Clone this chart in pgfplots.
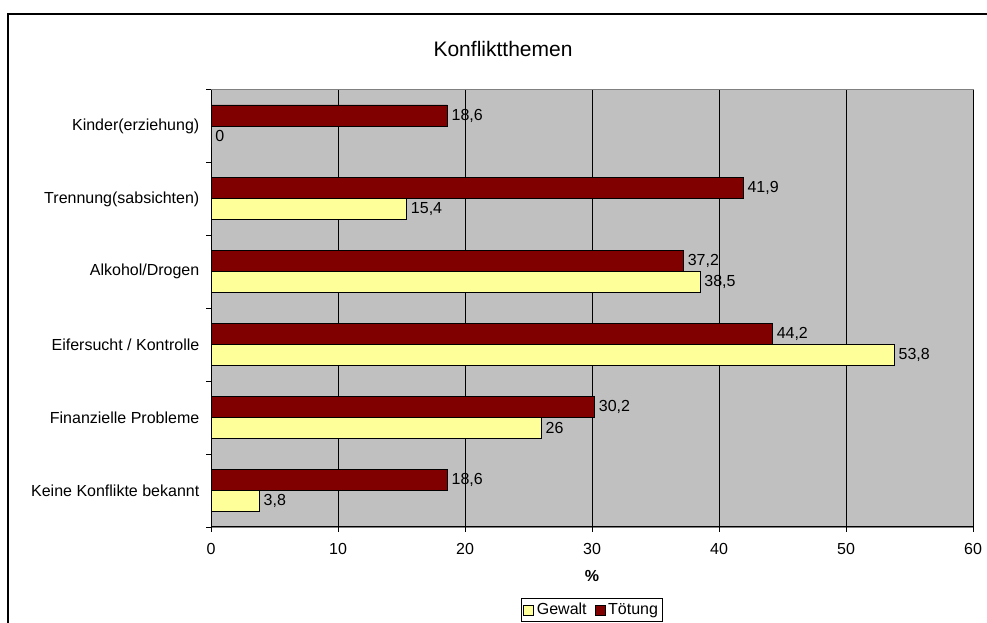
\documentclass[border=0pt]{standalone}
\usepackage{pgfplots}
\pgfplotsset{compat=1.18}
\usepackage{fontspec}
\setmainfont{Liberation Sans}
\definecolor{chartgray}{HTML}{C0C0C0}
\definecolor{gewalt}{HTML}{FFFF99}
\definecolor{toetung}{HTML}{800000}
\newcommand\lab{\fontsize{12pt}{14pt}\selectfont}
\newcommand\ttl{\fontsize{15.75pt}{18pt}\selectfont}
\begin{document}
\begin{tikzpicture}
\useasboundingbox (0,0) rectangle (740.25pt,467.25pt);
\draw[line width=1.5pt] (6pt,-2pt) -- (6pt,456.75pt) -- (745pt,456.75pt);
\node[font=\ttl] at (377.25pt,430.5pt) {Konfliktthemen};
\begin{axis}[
  at={(158.25pt,72pt)}, anchor=south west,
  scale only axis, width=571.5pt, height=328.1pt,
  xmin=0, xmax=60, ymin=-0.5, ymax=5.5,
  xbar, bar width=0.288,
  xtick={0,10,...,60},
  xmajorgrids, major grid style={black, line width=0.6pt},
  ytick={-0.5,0.5,...,5.5}, y tick label as interval,
  yticklabels={Keine Konflikte bekannt, Finanzielle Probleme, Eifersucht / Kontrolle, Alkohol/Drogen, Trennung(sabsichten), Kinder(erziehung)},
  tick align=outside, major tick length=3.75pt,
  tick style={black, line width=0.6pt},
  axis x line*=bottom, axis y line*=left,
  axis line style={-, black, line width=0.75pt},
  axis background/.style={fill=chartgray, draw=gray},
  ticklabel style={font=\lab},
  xticklabel style={yshift=-5pt},
  yticklabel style={xshift=-1.5pt},
  /pgf/number format/assume math mode=true,
  /pgf/number format/use comma,
  xlabel={\%}, xlabel style={font=\lab\bfseries, at={(axis description cs:0.5,-0.112)}, anchor=center},
  nodes near coords, nodes near coords style={font=\lab, black, anchor=west, inner xsep=3pt},
  legend style={draw=black, line width=0.6pt, at={(axis description cs:0.5,-0.19)}, anchor=center, font=\lab, legend columns=2, inner sep=1.5pt, /tikz/every even column/.append style={column sep=4pt}},
  legend image code/.code={\draw[#1, draw=black, line width=0.6pt] (0pt,-3.75pt) rectangle (7.5pt,3.75pt);},
]
\addplot[fill=gewalt, draw=black, line width=0.6pt, bar shift=-0.144] coordinates {
  (3.8,0) (26,1) (53.8,2) (38.5,3) (15.4,4) (0,5)};
\addlegendentry{Gewalt}
\addplot[fill=toetung, draw=black, line width=0.6pt, bar shift=0.144] coordinates {
  (18.6,0) (30.2,1) (44.2,2) (37.2,3) (41.9,4) (18.6,5)};
\addlegendentry{Tötung}
\end{axis}
\end{tikzpicture}
\end{document}
